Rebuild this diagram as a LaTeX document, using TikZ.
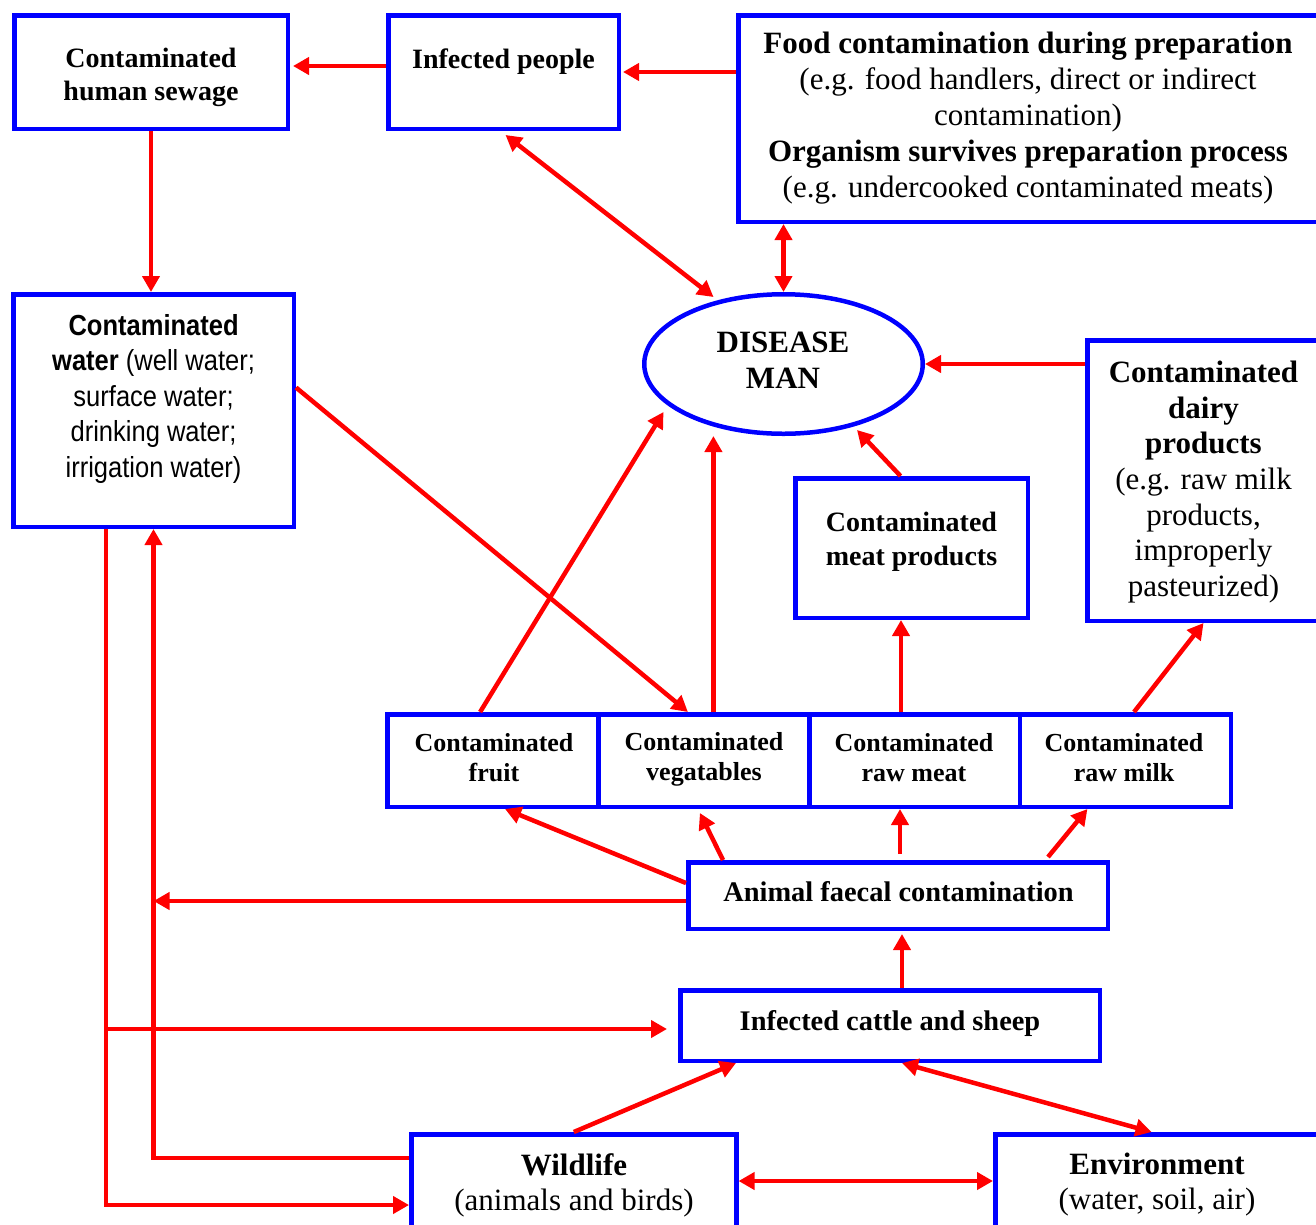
\documentclass[tikz,border=0pt]{standalone}
\usepackage{fontspec}
\setmainfont{Liberation Serif}
\newfontfamily\narrowsans[FakeStretch=0.88]{Liberation Sans}
\usetikzlibrary{arrows.meta,shapes.geometric,calc}
\begin{document}
\begin{tikzpicture}[x=1pt,y=-1pt,
  box/.style={draw={rgb,255:red,0;green,0;blue,255}, line width=4.5pt, inner sep=0pt, rectangle},
  txt/.style={align=center, inner sep=0pt},
  arr/.style={draw={rgb,255:red,255;green,0;blue,0}, line width=4.5pt, -{Triangle[length=16pt,width=17pt]}},
  arrtwo/.style={draw={rgb,255:red,255;green,0;blue,0}, line width=4.5pt, {Triangle[length=16pt,width=17pt]}-{Triangle[length=16pt,width=17pt]}}]
\useasboundingbox (0,0) rectangle (1316,1224);
\clip (0,0) rectangle (1316,1224);
\fill[white] (0,0) rectangle (1316,1224);

% boxes
\node[box, minimum width=273.5pt, minimum height=113.5pt] (sewage) at (151,72) {};
\node[box, minimum width=230.5pt, minimum height=113.5pt] (people) at (503.5,72) {};
\node[box, minimum width=579.5pt, minimum height=206.5pt] (food) at (1028,118.5) {};
\node[box, minimum width=280.5pt, minimum height=232.5pt] (water) at (153.5,410.5) {};
\node[draw={rgb,255:red,0;green,0;blue,255}, line width=4.5pt, ellipse, inner sep=0pt, minimum width=278.5pt, minimum height=139.5pt] (disease) at (783.5,364) {};
\node[box, minimum width=232.5pt, minimum height=280.5pt] (dairy) at (1203.5,480.5) {};
\node[box, minimum width=232.5pt, minimum height=139.5pt] (meat) at (911.5,548) {};
\node[box, minimum width=210.75pt, minimum height=92.5pt] (fruit) at (493.1,760.5) {};
\node[box, minimum width=210.75pt, minimum height=92.5pt] (veg) at (703.9,760.5) {};
\node[box, minimum width=210.75pt, minimum height=92.5pt] (rawmeat) at (914.6,760.5) {};
\node[box, minimum width=210.75pt, minimum height=92.5pt] (milk) at (1125.4,760.5) {};
\node[box, minimum width=419.5pt, minimum height=66.5pt] (animal) at (898,895.5) {};
\node[box, minimum width=419.5pt, minimum height=70.5pt] (cattle) at (890,1025.5) {};
\node[box, minimum width=325pt, minimum height=103.5pt] (wildlife) at (573.8,1186) {};
\node[box, minimum width=324.5pt, minimum height=103.5pt] (env) at (1157.5,1186) {};

% texts
\node[txt, font=\bfseries\fontsize{28}{33}\selectfont] (sewageT) at (151,77.5) {Contaminated\\human sewage};
\node[txt, font=\bfseries\fontsize{28}{33}\selectfont] (peopleT) at (503.5,62) {Infected people};
\node[txt, font=\fontsize{31}{36}\selectfont] (foodT) at (1028,118) {{\bfseries Food contamination during preparation}\\(e.g. food handlers, direct or indirect\\contamination)\\{\bfseries Organism survives preparation process}\\(e.g. undercooked contaminated meats)};
\node[txt, font=\narrowsans\fontsize{29}{35.5}\selectfont] (waterT) at (153.6,398.5) {{\bfseries Contaminated}\\{\bfseries water} (well water;\\surface water;\\drinking water;\\irrigation water)};
\node[txt, font=\bfseries\fontsize{31}{36}\selectfont] (diseaseT) at (783,360) {DISEASE\\MAN};
\node[txt, font=\fontsize{31}{35.7}\selectfont] (dairyT) at (1203.5,482) {{\bfseries Contaminated}\\{\bfseries dairy}\\{\bfseries products}\\(e.g. raw milk\\products,\\improperly\\pasteurized)};
\node[txt, font=\bfseries\fontsize{28}{34}\selectfont] (meatT) at (911.5,541.5) {Contaminated\\meat products};
\node[txt, font=\bfseries\fontsize{26}{30}\selectfont] (fruitT) at (494,758) {Contaminated\\fruit};
\node[txt, font=\bfseries\fontsize{26}{30}\selectfont] (vegT) at (704,759) {Contaminated\\vegatables};
\node[txt, font=\bfseries\fontsize{26}{30}\selectfont] (rawmeatT) at (914,758) {Contaminated\\raw meat};
\node[txt, font=\bfseries\fontsize{26}{30}\selectfont] (milkT) at (1124,758) {Contaminated\\raw milk};
\node[txt, font=\bfseries\fontsize{28.4}{33}\selectfont] (animalT) at (898.5,892) {Animal faecal contamination};
\node[txt, font=\bfseries\fontsize{28.4}{33}\selectfont] (cattleT) at (890,1023.5) {Infected cattle and sheep};
\node[txt, font=\fontsize{31}{35}\selectfont] (wildT) at (574,1185) {{\bfseries Wildlife}\\(animals and birds)};
\node[txt, font=\fontsize{31}{35}\selectfont] (envT) at (1157,1185) {{\bfseries Environment}\\(water, soil, air)};

% helper coordinates
\coordinate (wl) at ($(water.south)+(-47.5,0)$);
\coordinate (mp) at ($(meat.south)+(-10.5,0)$);
\coordinate (vg) at ($(veg.north)+(9.5,0)$);
\coordinate (an) at ($(animal.north)+(2,0)$);
\coordinate (cn) at ($(cattle.north)+(12,0)$);
\coordinate (aw) at ($(animal.west)+(0,5.5)$);
\coordinate (cw) at ($(cattle.west)+(-11,3.5)$);

% connectors
\draw[arr, shorten >=3pt] ([yshift=6pt]people.west) -- ([yshift=6pt]sewage.east);
\draw[arr, shorten >=2pt] (people.east -| food.west) -- (people.east);
\draw[arr] (sewage.south) -- (sewage.south |- water.north);
\draw[arrtwo] ($(people.south)+(2,4)$) -- ($(disease.center)+(-70,-67)$);
\draw[arrtwo] (food.south -| disease.north) -- (disease.north);
\draw[arr] (disease.east -| dairy.west) -- (disease.east);
\draw[arr] ($(meat.north)+(-11,0)$) -- ($(disease.center)+(73.5,66)$);
\draw[arr] ($(water.east)+(0,-23)$) -- ($(veg.north)+(-16,0)$);
\draw[arr] ($(fruit.north)+(-13,0)$) -- ($(disease.center)+(-120,48)$);
\draw[arr] (vg) -- (vg |- disease.south);
\draw[arr] (mp |- rawmeat.north) -- (mp);
\draw[arr] ($(milk.north)+(8.6,0)$) -- (dairy.south);
\draw[arr] ($(animal.west)+(0,-12.5)$) -- ($(fruit.south)+(12,0)$);
\draw[arr] ($(animal.north)+(-175,0)$) -- ($(veg.south)+(-4,4)$);
\draw[arr] ($(an)+(0,-6)$) -- (an |- rawmeat.south);
\draw[arr] ($(animal.north)+(150,-3)$) -- ($(milk.south)+(-38,0)$);
\draw[arr] (aw) -- (aw -| water.south);
\draw[arr] ($(wildlife.west)+(0,-28)$) -| (water.south);
\draw[arr] (wl) |- ($(wildlife.west)+(0,19)$);
\draw[arr] (wl |- cw) -- (cw);
\draw[arr, shorten >=3pt] (cn) -- (cn |- animal.south);
\draw[arr] (wildlife.north) -- ($(cattle.south)+(-154,0)$);
\draw[arrtwo] ($(cattle.south)+(12,0)$) -- ($(env.north)+(-6,0)$);
\draw[arrtwo] ($(wildlife.east)+(0,-5)$) -- ($(env.west)+(0,-5)$);
\end{tikzpicture}
\end{document}
